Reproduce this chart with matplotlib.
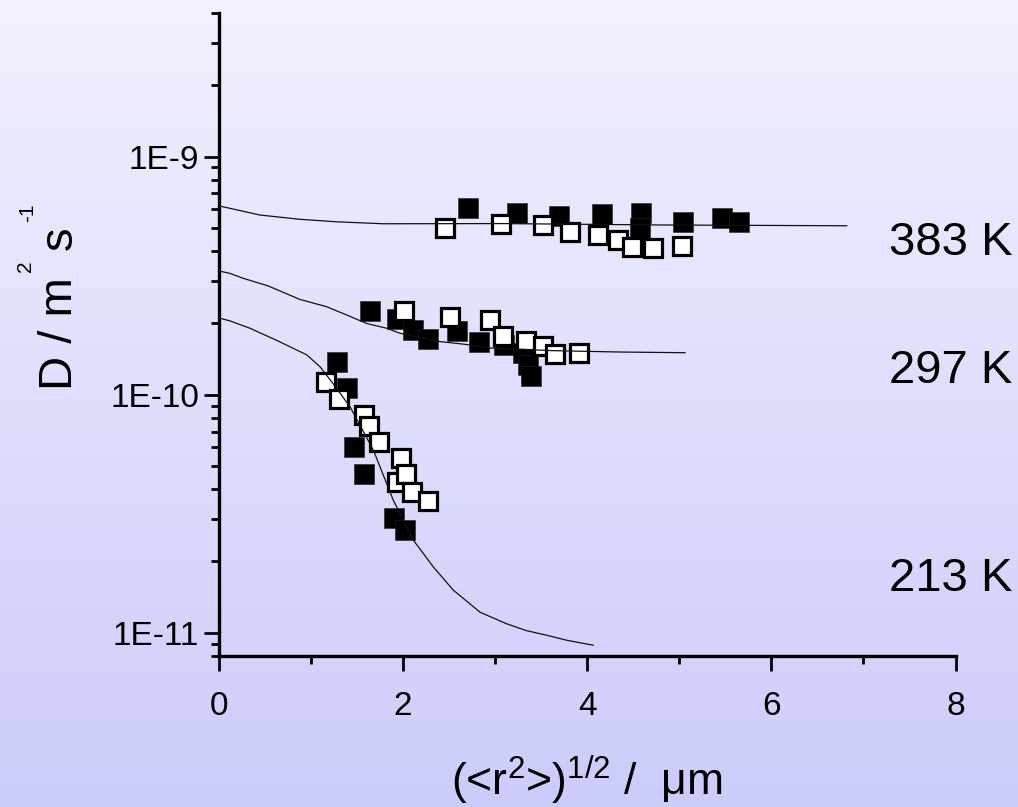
import numpy as np
import matplotlib
matplotlib.use("Agg")
import matplotlib.pyplot as plt
from matplotlib.ticker import FixedLocator, LogLocator, NullFormatter

plt.rcParams['font.family'] = ['Liberation Sans', 'DejaVu Sans']
plt.rcParams['mathtext.fontset'] = 'custom'
plt.rcParams['mathtext.rm'] = 'Liberation Sans'
plt.rcParams['mathtext.it'] = 'Liberation Sans'

# ---------------- data ----------------
# 383 K
line383_x = [0.0, 0.448, 0.883, 1.281, 1.787, 3.054, 4.788, 6.819]
line383_y = [6.21e-10, 5.68e-10, 5.45e-10, 5.32e-10, 5.22e-10, 5.23e-10, 5.16e-10, 5.12e-10]
fill383_x = [2.710, 3.236, 3.692, 4.165, 4.585, 4.569, 5.045, 5.461, 5.653]
fill383_y = [6.09e-10, 5.77e-10, 5.64e-10, 5.75e-10, 5.81e-10, 5.01e-10, 5.29e-10, 5.51e-10, 5.31e-10]
open383_x = [2.457, 3.062, 3.518, 3.814, 4.115, 4.339, 4.488, 4.719, 5.030]
open383_y = [5.02e-10, 5.22e-10, 5.14e-10, 4.82e-10, 4.69e-10, 4.47e-10, 4.17e-10, 4.13e-10, 4.19e-10]

# 297 K
line297_x = [0.0, 0.123, 0.267, 0.539, 0.883, 1.173, 1.390, 1.607, 1.824, 1.969,
             2.403, 2.656, 2.946, 3.633, 4.357, 5.063]
line297_y = [3.31e-10, 3.23e-10, 3.08e-10, 2.86e-10, 2.51e-10, 2.34e-10, 2.16e-10, 1.99e-10,
             1.90e-10, 1.81e-10, 1.67e-10, 1.63e-10, 1.57e-10, 1.53e-10, 1.51e-10, 1.50e-10]
fill297_x = [1.643, 1.933, 2.113, 2.269, 2.584, 2.830, 3.098, 3.307, 3.362, 3.391]
fill297_y = [2.24e-10, 2.08e-10, 1.87e-10, 1.72e-10, 1.85e-10, 1.66e-10, 1.61e-10, 1.49e-10, 1.33e-10, 1.20e-10]
open297_x = [2.009, 2.511, 2.946, 3.087, 3.333, 3.524, 3.651, 3.912]
open297_y = [2.24e-10, 2.12e-10, 2.06e-10, 1.76e-10, 1.68e-10, 1.60e-10, 1.48e-10, 1.50e-10]

# 213 K
line213_x = [0.0, 0.123, 0.340, 0.630, 0.955, 1.100, 1.244, 1.426, 1.679, 1.896,
             2.113, 2.330, 2.547, 2.837, 3.127, 3.344, 3.561, 3.778, 4.067]
line213_y = [2.10e-10, 2.04e-10, 1.90e-10, 1.69e-10, 1.47e-10, 1.31e-10, 1.11e-10, 8.89e-11,
             5.85e-11, 3.60e-11, 2.45e-11, 1.89e-11, 1.51e-11, 1.22e-11, 1.09e-11, 1.02e-11,
             9.76e-12, 9.30e-12, 8.86e-12]
fill213_x = [1.281, 1.390, 1.472, 1.581, 1.903, 2.020]
fill213_y = [1.37e-10, 1.07e-10, 6.03e-11, 4.63e-11, 3.02e-11, 2.71e-11]
open213_x = [1.165, 1.309, 1.574, 1.635, 1.740, 1.979, 1.933, 2.034, 2.102, 2.276]
open213_y = [1.13e-10, 9.57e-11, 8.20e-11, 7.37e-11, 6.32e-11, 5.41e-11, 4.28e-11, 4.62e-11, 3.91e-11, 3.57e-11]

temp_labels = ["383 K", "297 K", "213 K"]
x_ticks = [0, 2, 4, 6, 8]
y_ticks = [1e-11, 1e-10, 1e-9]
y_ticklabels = ["1E-11", "1E-10", "1E-9"]

W, H = 1018, 807

# ---------------- figure ----------------
fig = plt.figure(figsize=(W / 100, H / 100), dpi=100)

# gradient background
bg = fig.add_axes([0, 0, 1, 1], zorder=-10)
top = np.array([241, 241, 255]) / 255.0
bot = np.array([204, 204, 251]) / 255.0
t = np.linspace(0, 1, 256)[:, None]
grad = (top[None, :] * (1 - t) + bot[None, :] * t)[:, None, :]
bg.imshow(grad, aspect='auto', extent=[0, 1, 0, 1], origin='upper')
bg.set_axis_off()

ax = fig.add_axes([0.21483, 0.18736, 0.72378, 0.79628])
ax.patch.set_alpha(0)
ax.set_yscale('log')
ax.set_xlim(0, 8)
ax.set_ylim(8e-12, 4e-9)

ms_fill = 14.5
ms_open = 12.4
mew_open = 2.3

for fx, fy, ox, oy, lx, ly in [
    (fill383_x, fill383_y, open383_x, open383_y, line383_x, line383_y),
    (fill297_x, fill297_y, open297_x, open297_y, line297_x, line297_y),
    (fill213_x, fill213_y, open213_x, open213_y, line213_x, line213_y),
]:
    ax.plot(fx, fy, ls='none', marker='s', ms=ms_fill, mfc='black', mec='#222222', mew=0.4, zorder=3)
    ax.plot(ox, oy, ls='none', marker='s', ms=ms_open, mfc='white', mec='black', mew=mew_open, zorder=4)
    ax.plot(lx, ly, color='#111111', lw=0.9, zorder=5, clip_on=False)

for s in ['top', 'right']:
    ax.spines[s].set_visible(False)
for s in ['left', 'bottom']:
    ax.spines[s].set_linewidth(2.4)
    ax.spines[s].set_color('black')

ax.xaxis.set_major_locator(FixedLocator(x_ticks))
ax.xaxis.set_minor_locator(FixedLocator([1, 3, 5, 7]))
ax.yaxis.set_major_locator(FixedLocator(y_ticks))
ax.yaxis.set_minor_locator(LogLocator(base=10, subs=np.arange(2, 10), numticks=20))
ax.yaxis.set_minor_formatter(NullFormatter())
ax.set_yticklabels(y_ticklabels)
ax.set_xticklabels([str(v) for v in x_ticks])

ax.tick_params(which='major', direction='out', length=11, width=2.0, labelsize=24, color='black')
ax.tick_params(which='minor', direction='out', length=5.5, width=2.0, color='black')
ax.tick_params(axis='y', which='major', pad=3)
ax.tick_params(axis='x', which='major', pad=14)


def ptext(px, py, s, size):
    # rotated text piece placed by its baseline-start anchor (pixel coords)
    fig.text(px / W, 1 - py / H, s, fontsize=size, rotation=90,
             rotation_mode='anchor', ha='left', va='baseline')


# y-axis label "D / m^2 s^-1" built from pieces
ptext(72, 390, 'D / m', 34)
ptext(31, 272, '2', 15)
ptext(72, 250, 's', 34)
ptext(33, 222, '-1', 15)

ax.set_xlabel('(<r$^{2}$>)$^{1/2}$ /  \u03bcm', fontsize=32, labelpad=23)

label_y = [3.86e-10, 1.12e-10, 1.50e-11]
for lab, yy in zip(temp_labels, label_y):
    ax.text(7.28, yy, lab, fontsize=34, ha='left', va='baseline', clip_on=False)

fig.savefig('out.png', dpi=100)
